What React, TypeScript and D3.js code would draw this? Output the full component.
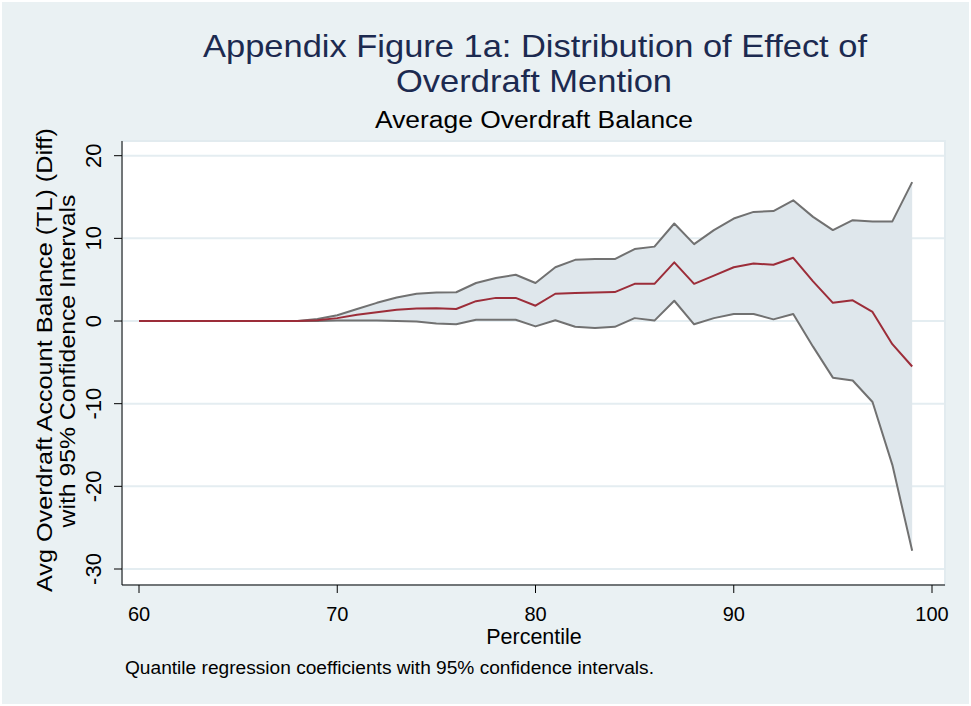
import React from "react";
import * as d3 from "d3";

const percentiles = [60,61,62,63,64,65,66,67,68,69,70,71,72,73,74,75,76,77,78,79,80,81,82,83,84,85,86,87,88,89,90,91,92,93,94,95,96,97,98,99];
const estimate = [0,0,0,0,0,0,0,0,0,0.1,0.35,0.75,1.05,1.35,1.5,1.55,1.45,2.4,2.8,2.8,1.85,3.3,3.4,3.45,3.5,4.5,4.5,7.1,4.5,5.5,6.5,6.95,6.8,7.65,4.8,2.2,2.5,1.1,-2.8,-5.5];
const upperCI = [0,0,0,0,0,0,0,0,0,0.25,0.7,1.45,2.2,2.85,3.3,3.45,3.48,4.6,5.2,5.6,4.6,6.5,7.4,7.5,7.5,8.7,9.0,11.8,9.3,11.0,12.4,13.2,13.3,14.6,12.6,11.0,12.2,12.05,12.05,16.8];
const lowerCI = [0,0,0,0,0,0,0,0,0,0,0.05,0.05,0.05,0,-0.05,-0.3,-0.4,0.15,0.15,0.15,-0.65,0.1,-0.7,-0.85,-0.7,0.35,0.05,2.45,-0.4,0.35,0.85,0.85,0.2,0.85,-3.1,-6.85,-7.2,-9.8,-17.4,-27.8];
const xTicks = [60,70,80,90,100];
const yTicks = [-30,-20,-10,0,10,20];

const W = 971, H = 706;
const plot = { left: 122, right: 945, top: 141, bottom: 585 };
const FONT = "'Liberation Sans', Arial, Helvetica, sans-serif";

export default function App() {
  const x = d3.scaleLinear().domain([60, 100]).range([139, 932]);
  const y = d3.scaleLinear().domain([-30, 20]).range([569, 155.7]);

  const rows = percentiles.map((p, i) => ({ p, est: estimate[i], lo: lowerCI[i], hi: upperCI[i] }));
  const area = d3.area<any>().x(d => x(d.p)).y0(d => y(d.lo)).y1(d => y(d.hi))(rows) || "";
  const lineOf = (key: string) => d3.line<any>().x(d => x(d.p)).y(d => y(d[key]))(rows) || "";

  return (
    <svg width={W} height={H} style={{ position: "absolute", left: 0, top: 0, display: "block" }} fontFamily={FONT}>
      <rect x={0} y={0} width={W} height={H} fill="#ffffff" />
      <rect x={2} y={2} width={W - 4} height={H - 4} fill="#eaf1f3" />
      <rect x={plot.left} y={plot.top} width={plot.right - plot.left} height={plot.bottom - plot.top} fill="#ffffff" stroke="#e2ebef" strokeWidth={2} />
      {yTicks.map(t => (
        <line key={"g" + t} x1={plot.left} x2={plot.right - 1} y1={y(t)} y2={y(t)} stroke="#e4edf1" strokeWidth={2} />
      ))}
      <path d={area} fill="#dfe7ec" stroke="none" />
      <path d={lineOf("hi")} fill="none" stroke="#717171" strokeWidth={2} strokeLinejoin="round" />
      <path d={lineOf("lo")} fill="none" stroke="#717171" strokeWidth={2} strokeLinejoin="round" />
      <path d={lineOf("est")} fill="none" stroke="#9c2d39" strokeWidth={2} strokeLinejoin="round" />
      {/* axes */}
      <line x1={plot.left} x2={plot.left} y1={plot.top} y2={plot.bottom} stroke="#000" strokeWidth={1} />
      <line x1={plot.left} x2={plot.right} y1={plot.bottom} y2={plot.bottom} stroke="#000" strokeWidth={1} />
      {yTicks.map(t => (
        <g key={"yt" + t}>
          <line x1={plot.left - 8} x2={plot.left} y1={y(t)} y2={y(t)} stroke="#000" strokeWidth={1} />
          <text transform={`translate(101,${y(t)}) rotate(-90)`} textAnchor="middle" fontSize={22} fill="#000">{t}</text>
        </g>
      ))}
      {xTicks.map(t => (
        <g key={"xt" + t}>
          <line x1={x(t)} x2={x(t)} y1={plot.bottom} y2={plot.bottom + 8} stroke="#000" strokeWidth={1} />
          <text x={x(t)} y={621} textAnchor="middle" fontSize={20} fill="#000">{t}</text>
        </g>
      ))}
      <text x={534} y={643.5} textAnchor="middle" fontSize={21.5} fill="#000">Percentile</text>
      <text transform="translate(52,360) rotate(-90)" textAnchor="middle" fontSize={22} fill="#000" textLength={464} lengthAdjust="spacingAndGlyphs">Avg Overdraft Account Balance (TL) (Diff)</text>
      <text transform="translate(75,361) rotate(-90)" textAnchor="middle" fontSize={22} fill="#000" textLength={333} lengthAdjust="spacingAndGlyphs">with 95% Confidence Intervals</text>
      <text x={535} y={57} textAnchor="middle" fontSize={32} fill="#1c2a50" textLength={664} lengthAdjust="spacingAndGlyphs">Appendix Figure 1a: Distribution of Effect of</text>
      <text x={534} y={91.5} textAnchor="middle" fontSize={32} fill="#1c2a50" textLength={276} lengthAdjust="spacingAndGlyphs">Overdraft Mention</text>
      <text x={534} y={128} textAnchor="middle" fontSize={23} fill="#000" textLength={318} lengthAdjust="spacingAndGlyphs">Average Overdraft Balance</text>
      <text x={125} y={673.5} textAnchor="start" fontSize={17.5} fill="#000" textLength={529} lengthAdjust="spacingAndGlyphs">Quantile regression coefficients with 95% confidence intervals.</text>
    </svg>
  );
}
